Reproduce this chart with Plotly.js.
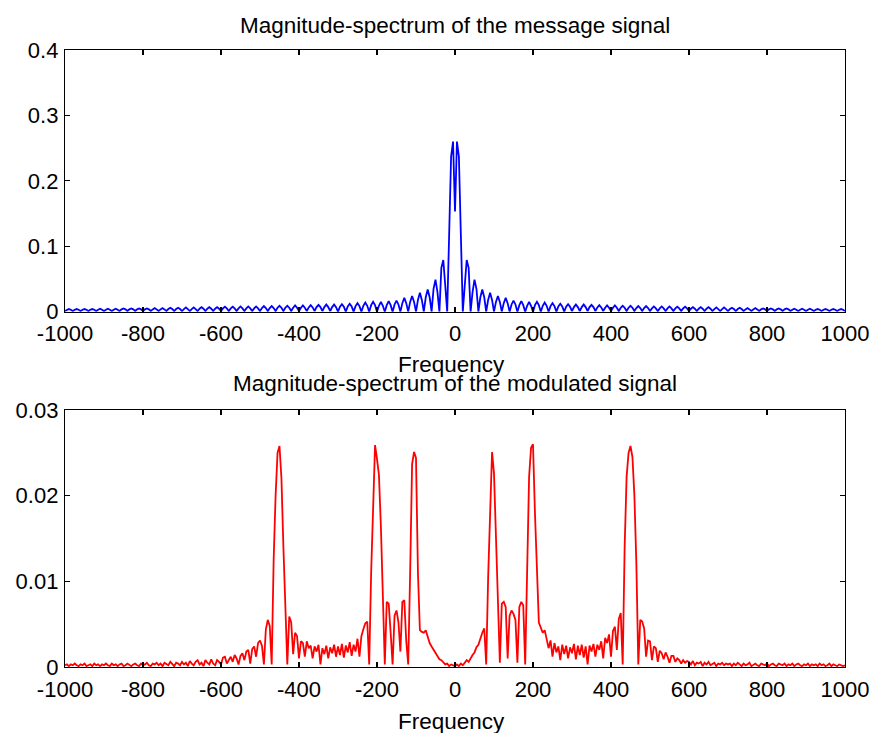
<!DOCTYPE html>
<html>
<head>
<meta charset="utf-8">
<script src="https://cdn.plot.ly/plotly-3.0.1.min.js"></script>
<style>html,body{margin:0;padding:0;background:#fff;}#chart{width:874px;height:733px;}</style>
</head>
<body>
<div id="chart"></div>
<script>
// Frequency grid (Hz): start and step of the sampled spectra
const freqStart = -1000;
const freqStep = 5;

// Tick values / labels
const freqTicks = [-1000, -800, -600, -400, -200, 0, 200, 400, 600, 800, 1000];
const freqTickLabels = ['-1000', '-800', '-600', '-400', '-200', '0', '200', '400', '600', '800', '1000'];
const msgTicks = [0, 0.1, 0.2, 0.3, 0.4];
const msgTickLabels = ['0', '0.1', '0.2', '0.3', '0.4'];
const modTicks = [0, 0.01, 0.02, 0.03];
const modTickLabels = ['0', '0.01', '0.02', '0.03'];

// Magnitude spectrum of the message signal (-1000 .. 1000 Hz, 5 Hz step)
const msgMag = [
  0.001,0.003,0.004,0.003, 0.001,0.003,0.004,0.003, 0.001,0.003,0.004,0.003, 0.001,0.003,0.004,0.003, 0.001,0.003,0.0045,0.003,
  0.001,0.003,0.0045,0.003, 0.001,0.003,0.0045,0.003, 0.001,0.0035,0.005,0.0035, 0.001,0.0035,0.005,0.0035, 0.001,0.0035,0.005,0.0035,
  0.001,0.0035,0.005,0.0035, 0.001,0.0035,0.0055,0.0035, 0.001,0.0035,0.0055,0.0035, 0.001,0.004,0.006,0.004, 0.001,0.004,0.006,0.004,
  0.001,0.004,0.0065,0.004, 0.001,0.004,0.0065,0.004, 0.001,0.0045,0.007,0.0045, 0.001,0.0045,0.007,0.0045, 0.001,0.0045,0.007,0.0045,
  0.001,0.005,0.0075,0.005, 0.001,0.005,0.0075,0.005, 0.001,0.005,0.008,0.005, 0.001,0.005,0.008,0.005, 0.001,0.005,0.008,0.005,
  0.001,0.0055,0.0085,0.0055, 0.001,0.0055,0.0085,0.0055, 0.001,0.006,0.009,0.006, 0.001,0.006,0.009,0.006, 0.001,0.006,0.0095,0.006,
  0.001,0.006,0.0095,0.006, 0.001,0.0065,0.010,0.0065, 0.001,0.007,0.0105,0.007, 0.001,0.007,0.011,0.007, 0.001,0.007,0.011,0.007,
  0,0.0075,0.0115,0.0075, 0,0.008,0.012,0.008, 0,0.0085,0.013,0.0085, 0,0.009,0.014,0.009, 0,0.010,0.015,0.010,
  0,0.009,0.015,0.009, 0,0.010,0.016,0.010, 0,0.011,0.017,0.011, 0,0.013,0.021,0.013, 0,0.015,0.024,0.015,
  0,0.018,0.029,0.018, 0,0.022,0.034,0.022, 0,0.035,0.049,0.030, 0,0.067,0.079,0.040, 0,0.118,0.237,0.26,
  0.153,0.26,0.237,0.118, 0,0.040,0.079,0.067, 0,0.030,0.049,0.035, 0,0.022,0.034,0.022, 0,0.018,0.029,0.018,
  0,0.015,0.024,0.015, 0,0.013,0.021,0.013, 0,0.011,0.017,0.011, 0,0.010,0.016,0.010, 0,0.009,0.015,0.009,
  0,0.010,0.015,0.010, 0,0.009,0.014,0.009, 0,0.0085,0.013,0.0085, 0,0.008,0.012,0.008, 0,0.0075,0.0115,0.0075,
  0.001,0.007,0.011,0.007, 0.001,0.007,0.011,0.007, 0.001,0.007,0.0105,0.007, 0.001,0.0065,0.010,0.0065, 0.001,0.006,0.0095,0.006,
  0.001,0.006,0.0095,0.006, 0.001,0.006,0.009,0.006, 0.001,0.006,0.009,0.006, 0.001,0.0055,0.0085,0.0055, 0.001,0.0055,0.0085,0.0055,
  0.001,0.005,0.008,0.005, 0.001,0.005,0.008,0.005, 0.001,0.005,0.008,0.005, 0.001,0.005,0.0075,0.005, 0.001,0.005,0.0075,0.005,
  0.001,0.0045,0.007,0.0045, 0.001,0.0045,0.007,0.0045, 0.001,0.0045,0.007,0.0045, 0.001,0.004,0.0065,0.004, 0.001,0.004,0.0065,0.004,
  0.001,0.004,0.006,0.004, 0.001,0.004,0.006,0.004, 0.001,0.0035,0.0055,0.0035, 0.001,0.0035,0.0055,0.0035, 0.001,0.0035,0.005,0.0035,
  0.001,0.0035,0.005,0.0035, 0.001,0.0035,0.005,0.0035, 0.001,0.0035,0.005,0.0035, 0.001,0.003,0.0045,0.003, 0.001,0.003,0.0045,0.003,
  0.001,0.003,0.0045,0.003, 0.001,0.003,0.004,0.003, 0.001,0.003,0.004,0.003, 0.001,0.003,0.004,0.003, 0.001,0.003,0.004,0.003,
  0.001
];

// Magnitude spectrum of the modulated signal (-1000 .. 1000 Hz, 5 Hz step)
const modMag = [
  0.0002,0.0003,0.0001,0.0003,0.0002,0.0004,0.0002,0.0001,0.0003,0.0002,0.0004,0.0001,0.0002,0.0003,0.0001,0.0004,0.0002,0.0003,0.0001,0.0003,
  0.0002,0.0004,0.0002,0.0001,0.0004,0.0002,0.0003,0.0001,0.0003,0.0004,0.0001,0.0002,0.0004,0.0002,0.0001,0.0003,0.0004,0.0002,0.0001,0.0004,
  0.0002,0.0003,0.0005,0.0002,0.0001,0.0004,0.0003,0.0005,0.0002,0.0004,0.0001,0.0005,0.0003,0.0002,0.0006,0.0003,0.0001,0.0005,0.0004,0.0002,
  0.0006,0.0003,0.0005,0.0001,0.0007,0.0004,0.0002,0.0006,0.0008,0.0003,0.0005,0.0001,0.0008,0.0005,0.0003,0.0009,0.0004,0.0002,0.0008,0.0006,
  0.0003,0.0011,0.0012,0.0004,0.0009,0.0012,0.0006,0.0014,0.0010,0.0003,0.0013,0.0016,0.0008,0.0018,0.0020,0.0004,0.0021,0.0024,0.0012,0.0028,
  0.0031,0.0025,0.0003,0.0044,0.0055,0.0048,0.0003,0.0125,0.020,0.025,0.0258,0.022,0.014,0.0065,0.0003,0.0059,0.0052,0.0015,0.0040,0.0036,
  0.0010,0.0030,0.0028,0.0012,0.0030,0.0022,0.0025,0.0010,0.0024,0.0018,0.0026,0.0003,0.0022,0.0015,0.0025,0.0010,0.0023,0.0016,0.0026,0.0012,
  0.0024,0.0014,0.0027,0.0011,0.0025,0.0017,0.0029,0.0013,0.0026,0.0018,0.0033,0.0012,0.0036,0.0044,0.0051,0.0053,0.0003,0.011,0.0175,0.0259,
  0.0243,0.0224,0.0164,0.0084,0.0003,0.0076,0.0074,0.0040,0.0003,0.0060,0.0066,0.0052,0.0018,0.0076,0.0078,0.0030,0.0003,0.011,0.0237,0.0251,
  0.0244,0.011,0.0043,0.0041,0.0040,0.0043,0.0035,0.0028,0.0024,0.0020,0.0016,0.0012,0.0009,0.0008,0.0005,0.0003,0.0004,0.0001,0.0003,0.0002,
  0.0001,0.0003,0.0001,0.0004,0.0002,0.0005,0.0008,0.0006,0.0011,0.0014,0.0017,0.0023,0.0026,0.0034,0.0040,0.0045,0.0003,0.0105,0.018,0.0251,
  0.0226,0.016,0.0078,0.0005,0.0074,0.0076,0.0070,0.0010,0.0060,0.0066,0.0062,0.0055,0.0005,0.0070,0.0076,0.0072,0.0003,0.0105,0.0222,0.0256,
  0.026,0.018,0.011,0.0052,0.0046,0.0040,0.0043,0.0030,0.0022,0.0031,0.0012,0.0028,0.0017,0.0024,0.0008,0.0026,0.0015,0.0025,0.0010,0.0023,
  0.0016,0.0027,0.0009,0.0025,0.0014,0.0026,0.0011,0.0024,0.0003,0.0025,0.0018,0.0027,0.0012,0.0026,0.0020,0.0030,0.0010,0.0034,0.0028,0.0038,
  0.0012,0.0042,0.0047,0.0020,0.0056,0.0063,0.0003,0.014,0.0222,0.025,0.0258,0.0245,0.020,0.0121,0.0003,0.0055,0.0053,0.0045,0.0012,0.0031,
  0.0030,0.0008,0.0024,0.0022,0.0006,0.0019,0.0016,0.0009,0.0017,0.0012,0.0005,0.0013,0.0013,0.0006,0.0010,0.0008,0.0004,0.0008,0.0005,0.0007,
  0.0006,0.0003,0.0007,0.0002,0.0005,0.0004,0.0006,0.0001,0.0005,0.0003,0.0006,0.0002,0.0004,0.0005,0.0001,0.0004,0.0003,0.0005,0.0002,0.0004,
  0.0003,0.0004,0.0001,0.0004,0.0002,0.0005,0.0003,0.0001,0.0004,0.0002,0.0003,0.0005,0.0001,0.0003,0.0004,0.0002,0.0001,0.0004,0.0003,0.0002,
  0.0004,0.0001,0.0003,0.0004,0.0002,0.0001,0.0004,0.0003,0.0002,0.0004,0.0001,0.0003,0.0002,0.0004,0.0001,0.0003,0.0004,0.0002,0.0001,0.0003,
  0.0002,0.0004,0.0001,0.0003,0.0002,0.0003,0.0001,0.0004,0.0002,0.0003,0.0001,0.0002,0.0004,0.0001,0.0003,0.0002,0.0001,0.0003,0.0002,0.0001,
  0.0002
];

const topTitle = 'Magnitude-spectrum of the message signal';
const bottomTitle = 'Magnitude-spectrum of the modulated signal';
const xLabel = 'Frequency';

const FONT = 'Liberation Sans, Arial, Helvetica, sans-serif';
const TITLE_FONT = {family: FONT, size: 22.5, color: '#000'};

const traces = [
  {type: 'scatter', mode: 'lines', x0: freqStart, dx: freqStep, y: msgMag,
   xaxis: 'x', yaxis: 'y', line: {color: '#0000ff', width: 1.8}, hoverinfo: 'skip'},
  {type: 'scatter', mode: 'lines', x0: freqStart, dx: freqStep, y: modMag,
   xaxis: 'x2', yaxis: 'y2', line: {color: '#ff0000', width: 1.8}, hoverinfo: 'skip'}
];

const axisCommon = {
  showline: true, linecolor: '#000', linewidth: 1.2, mirror: 'ticks',
  ticks: 'inside', ticklen: 5, tickwidth: 1.2, tickcolor: '#000',
  showgrid: false, zeroline: false,
  tickfont: {family: FONT, size: 22, color: '#000'}
};
const xAxisExtra = {ticklabelstandoff: 2};
const yAxisExtra = {ticklabelstandoff: 1};

const layout = {
  width: 874, height: 733,
  margin: {l: 65, r: 29, t: 50, b: 66, pad: 0},
  paper_bgcolor: '#fff', plot_bgcolor: '#fff',
  showlegend: false,
  font: {family: FONT, size: 21, color: '#000'},
  xaxis: Object.assign({}, axisCommon, xAxisExtra, {
    domain: [0, 1], anchor: 'y', range: [-1000, 1000],
    tickmode: 'array', tickvals: freqTicks, ticktext: freqTickLabels
  }),
  yaxis: Object.assign({}, axisCommon, yAxisExtra, {
    domain: [0.5759, 1], anchor: 'x', range: [0, 0.4],
    tickmode: 'array', tickvals: msgTicks, ticktext: msgTickLabels
  }),
  xaxis2: Object.assign({}, axisCommon, xAxisExtra, {
    domain: [0, 1], anchor: 'y2', range: [-1000, 1000],
    tickmode: 'array', tickvals: freqTicks, ticktext: freqTickLabels
  }),
  yaxis2: Object.assign({}, axisCommon, yAxisExtra, {
    domain: [0, 0.4165], anchor: 'x2', range: [0, 0.03],
    tickmode: 'array', tickvals: modTicks, ticktext: modTickLabels
  }),
  annotations: [
    {text: topTitle, xref: 'paper', yref: 'paper', x: 0.5, y: 1.0405,
     xanchor: 'center', yanchor: 'middle', showarrow: false, font: TITLE_FONT},
    {text: xLabel, xref: 'paper', yref: 'paper', x: 0.495, y: 0.4895,
     xanchor: 'center', yanchor: 'middle', showarrow: false, font: TITLE_FONT},
    {text: bottomTitle, xref: 'paper', yref: 'paper', x: 0.5, y: 0.4587,
     xanchor: 'center', yanchor: 'middle', showarrow: false, font: TITLE_FONT},
    {text: xLabel, xref: 'paper', yref: 'paper', x: 0.495, y: -0.0891,
     xanchor: 'center', yanchor: 'middle', showarrow: false, font: TITLE_FONT}
  ]
};

Plotly.newPlot('chart', traces, layout, {staticPlot: true, displayModeBar: false});
</script>
</body>
</html>
